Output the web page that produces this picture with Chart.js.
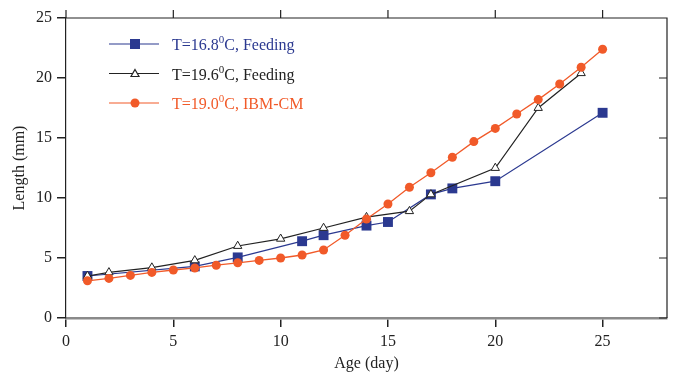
<!DOCTYPE html>
<html>
<head>
<meta charset="utf-8">
<script src="https://cdn.jsdelivr.net/npm/chart.js@4.4.1/dist/chart.umd.min.js"></script>
<style>
  html, body { margin: 0; padding: 0; background: #fff; }
  #wrap { width: 676px; height: 378px; position: relative; }
</style>
</head>
<body>
<div id="wrap"><canvas id="lengthChart" width="676" height="378"></canvas></div>
<script>
// data
const feed168Days = [1, 6, 8, 11, 12, 14, 15, 17, 18, 20, 25];
const feed168Len = [3.5, 4.3, 5.05, 6.4, 6.9, 7.7, 8.0, 10.3, 10.8, 11.4, 17.1];

const feed196Days = [1, 2, 4, 6, 8, 10, 12, 14, 16, 17, 20, 22, 24];
const feed196Len = [3.5, 3.8, 4.2, 4.8, 6.0, 6.6, 7.5, 8.4, 8.9, 10.3, 12.5, 17.5, 20.4];

const ibmDays = [1, 2, 3, 4, 5, 6, 7, 8, 9, 10, 11, 12, 13, 14, 15, 16, 17, 18, 19, 20, 21, 22, 23, 24, 25];
const ibmLen = [3.1, 3.3, 3.55, 3.8, 4.0, 4.17, 4.4, 4.6, 4.8, 5.0, 5.25, 5.67, 6.9, 8.25, 9.5, 10.9, 12.1, 13.4, 14.7, 15.8, 17.0, 18.2, 19.5, 20.9, 22.4];

const xTicks = [0, 5, 10, 15, 20, 25];
const yTicks = [0, 5, 10, 15, 20, 25];

const BLUE = '#2B3990';
const ORANGE = '#F15A29';
const BLACK = '#222222';
const serif = "'Liberation Serif', 'DejaVu Serif', serif";

const toPoints = (xs, ys) => xs.map((x, i) => ({ x: x, y: ys[i] }));

const legendRows = [
    { color: BLUE, marker: 'rect', pre: 'T=16.8', post: 'C, Feeding' },
    { color: BLACK, marker: 'triangle', pre: 'T=19.6', post: 'C, Feeding' },
    { color: ORANGE, marker: 'circle', pre: 'T=19.0', post: 'C, IBM-CM' }
];

// frame: top + right border with their ticks, and the legend
const framePlugin = {
    id: 'frame',
    afterDraw(chart) {
        const ctx = chart.ctx;
        const a = chart.chartArea;
        const xs = chart.scales.x;
        const ys = chart.scales.y;
        ctx.save();
        ctx.strokeStyle = BLACK;
        ctx.lineWidth = 1.2;
        ctx.beginPath();
        ctx.moveTo(a.left, a.top);
        ctx.lineTo(a.right, a.top);
        ctx.lineTo(a.right, a.bottom);
        xTicks.forEach(v => {
            const px = xs.getPixelForValue(v);
            ctx.moveTo(px, a.top);
            ctx.lineTo(px, a.top - 8);
        });
        yTicks.forEach(v => {
            const py = ys.getPixelForValue(v);
            ctx.moveTo(a.right, py);
            ctx.lineTo(a.right - 8, py);
        });
        ctx.stroke();

        // legend
        legendRows.forEach((row, i) => {
            const y = 44 + i * 29.5;
            ctx.strokeStyle = row.color;
            ctx.lineWidth = 1.2;
            ctx.beginPath();
            ctx.moveTo(109, y);
            ctx.lineTo(159, y);
            ctx.stroke();
            ctx.fillStyle = row.color;
            if (row.marker === 'rect') {
                ctx.fillRect(130, y - 5, 10, 10);
            } else if (row.marker === 'circle') {
                ctx.beginPath();
                ctx.arc(135, y, 4.5, 0, Math.PI * 2);
                ctx.fill();
            } else {
                ctx.fillStyle = '#fff';
                ctx.strokeStyle = row.color;
                ctx.beginPath();
                ctx.moveTo(135, y - 4);
                ctx.lineTo(139, y + 3);
                ctx.lineTo(131, y + 3);
                ctx.closePath();
                ctx.fill();
                ctx.stroke();
            }
            ctx.fillStyle = row.color;
            ctx.textBaseline = 'alphabetic';
            ctx.font = '16px ' + serif;
            let tx = 172;
            ctx.fillText(row.pre, tx, y + 6);
            tx += ctx.measureText(row.pre).width;
            ctx.font = '11px ' + serif;
            ctx.fillText('0', tx, y - 1);
            tx += ctx.measureText('0').width;
            ctx.font = '16px ' + serif;
            ctx.fillText(row.post, tx, y + 6);
        });
        ctx.restore();
    }
};

Chart.defaults.font.family = serif;
Chart.defaults.font.size = 16;
Chart.defaults.color = '#222';

new Chart(document.getElementById('lengthChart'), {
    type: 'line',
    data: {
        datasets: [
            {
                label: 'T=19.0 C, IBM-CM',
                data: toPoints(ibmDays, ibmLen),
                borderColor: ORANGE,
                backgroundColor: ORANGE,
                borderWidth: 1.3,
                pointStyle: 'circle',
                pointRadius: 4.5,
                pointBorderWidth: 0,
                order: 1
            },
            {
                label: 'T=19.6 C, Feeding',
                data: toPoints(feed196Days, feed196Len),
                borderColor: BLACK,
                backgroundColor: '#fff',
                borderWidth: 1.2,
                pointStyle: 'triangle',
                pointRadius: 4.8,
                pointBorderWidth: 1,
                order: 2
            },
            {
                label: 'T=16.8 C, Feeding',
                data: toPoints(feed168Days, feed168Len),
                borderColor: BLUE,
                backgroundColor: BLUE,
                borderWidth: 1.2,
                pointStyle: 'rect',
                pointRadius: 7,
                pointBorderWidth: 0,
                order: 3
            }
        ]
    },
    options: {
        responsive: false,
        animation: false,
        layout: { padding: { top: 18, right: 9, left: 0, bottom: 0 } },
        plugins: {
            legend: { display: false },
            tooltip: { enabled: false }
        },
        scales: {
            x: {
                type: 'linear',
                min: 0,
                max: 28,
                afterBuildTicks: (scale) => { scale.ticks = xTicks.map(v => ({ value: v })); },
                afterFit: (scale) => { scale.height = 60; },
                ticks: { padding: 5, maxRotation: 0 },
                grid: { display: true, drawOnChartArea: false, drawTicks: true, tickLength: 9, color: BLACK, lineWidth: 1.5 },
                border: { display: true, color: '#8a8a8a', width: 2.5 },
                title: { display: true, text: 'Age (day)', padding: { top: 0, bottom: 5 } }
            },
            y: {
                min: 0,
                max: 25,
                afterBuildTicks: (scale) => { scale.ticks = yTicks.map(v => ({ value: v })); },
                afterFit: (scale) => { scale.width = 66; },
                ticks: { padding: 5 },
                grid: { display: true, drawOnChartArea: false, drawTicks: true, tickLength: 9, color: BLACK, lineWidth: 1.5 },
                border: { display: true, color: BLACK, width: 1.2 },
                title: { display: true, text: 'Length (mm)', padding: { top: 10, bottom: 0 } }
            }
        }
    },
    plugins: [framePlugin]
});
</script>
</body>
</html>
